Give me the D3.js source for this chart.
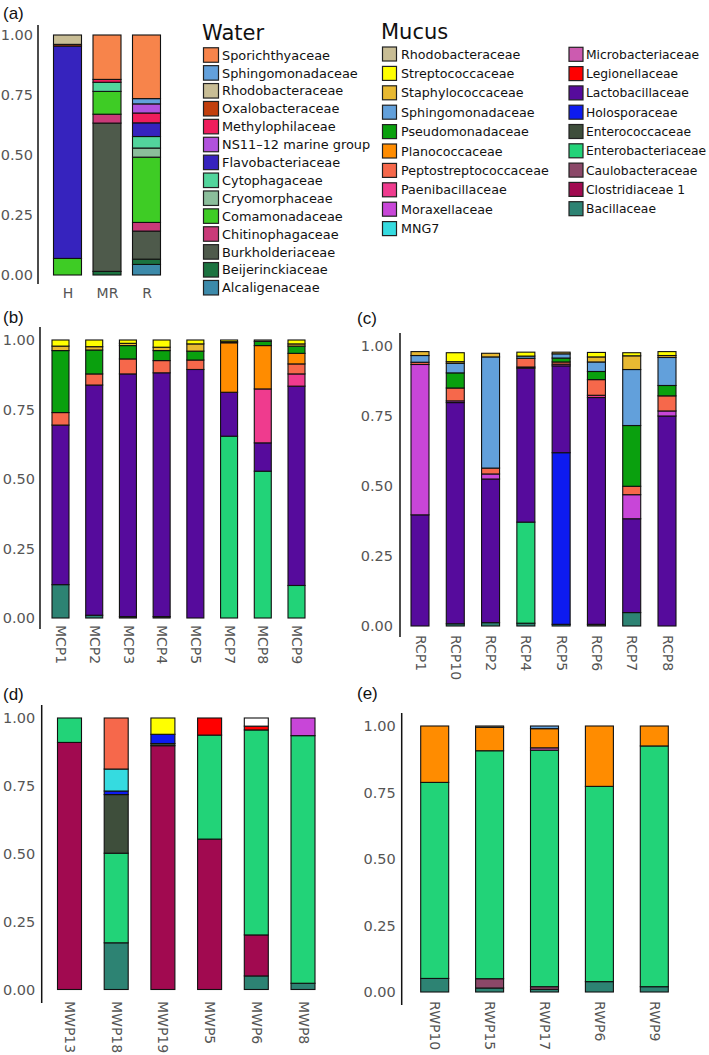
<!DOCTYPE html>
<html><head><meta charset="utf-8">
<script src="https://cdn.jsdelivr.net/npm/d3@7"></script>
<style>
body{margin:0;background:#fff}
svg{display:block}
text{font-family:"DejaVu Sans",Verdana,sans-serif}
</style>
</head><body>
<svg id="chart" width="709" height="1055"></svg>
<script>
// ---------- legend / categories ----------
const waterFamilies = ["Sporichthyaceae","Sphingomonadaceae","Rhodobacteraceae","Oxalobacteraceae","Methylophilaceae","NS11–12 marine group","Flavobacteriaceae","Cytophagaceae","Cryomorphaceae","Comamonadaceae","Chitinophagaceae","Burkholderiaceae","Beijerinckiaceae","Alcaligenaceae"];
const waterColors = ["#F7844B","#62A0DB","#C8BD95","#C23F0D","#EF1D5C","#B152DD","#3623BE","#52D59C","#8BBE9B","#3ECC25","#C93A79","#4E5A4B","#1B7340","#3C8AAA"];
const mucusFamiliesCol1 = ["Rhodobacteraceae","Streptococcaceae","Staphylococcaceae","Sphingomonadaceae","Pseudomonadaceae","Planococcaceae","Peptostreptococcaceae","Paenibacillaceae","Moraxellaceae","MNG7"];
const mucusColorsCol1 = ["#C8BD95","#FFFF00","#E8B932","#62A0DB","#0AA00E","#FF8C00","#F6684B","#EF3B8E","#C846D8","#35DBE0"];
const mucusFamiliesCol2 = ["Microbacteriaceae","Legionellaceae","Lactobacillaceae","Holosporaceae","Enterococcaceae","Enterobacteriaceae","Caulobacteraceae","Clostridiaceae 1","Bacillaceae"];
const mucusColorsCol2 = ["#CC5BB0","#FF0000","#560B9C","#0D1BF0","#3E4E3B","#22D378","#8B4868","#A10A50","#2D8373"];
const otherName = "Other";
const otherColor = "#FFFFFF";

// stacking order, bottom to top
const waterStack = ["Alcaligenaceae","Beijerinckiaceae","Burkholderiaceae","Chitinophagaceae","Comamonadaceae","Cryomorphaceae","Cytophagaceae","Flavobacteriaceae","Methylophilaceae","NS11–12 marine group","Oxalobacteraceae","Rhodobacteraceae","Sphingomonadaceae","Sporichthyaceae"];
const mucusStack = ["Bacillaceae","Caulobacteraceae","Clostridiaceae 1","Enterobacteriaceae","Enterococcaceae","Holosporaceae","Lactobacillaceae","Legionellaceae","Microbacteriaceae","MNG7","Moraxellaceae","Paenibacillaceae","Peptostreptococcaceae","Planococcaceae","Pseudomonadaceae","Rhodobacteraceae","Sphingomonadaceae","Staphylococcaceae","Streptococcaceae","Other"];

const yTicks = [0, 0.25, 0.5, 0.75, 1];

// ---------- panel (a) ----------
const samplesA = ["H","MR","R"];
const valuesA = {
  "Sporichthyaceae":      [0,     0.185, 0.265],
  "Sphingomonadaceae":    [0,     0,     0.022],
  "Rhodobacteraceae":     [0.039, 0,     0],
  "Oxalobacteraceae":     [0.007, 0,     0],
  "Methylophilaceae":     [0,     0.012, 0.041],
  "NS11–12 marine group": [0,     0,     0.038],
  "Flavobacteriaceae":    [0.885, 0,     0.057],
  "Cytophagaceae":        [0,     0.038, 0.048],
  "Cryomorphaceae":       [0,     0,     0.038],
  "Comamonadaceae":       [0.069, 0.095, 0.272],
  "Chitinophagaceae":     [0,     0.037, 0.036],
  "Burkholderiaceae":     [0,     0.618, 0.117],
  "Beijerinckiaceae":     [0,     0.015, 0.022],
  "Alcaligenaceae":       [0,     0,     0.044]
};

// ---------- panel (b) ----------
const samplesB = ["MCP1","MCP2","MCP3","MCP4","MCP5","MCP7","MCP8","MCP9"];
const valuesB = {
  "Streptococcaceae":      [0.022, 0.024, 0.012, 0.026, 0.014, 0.006, 0,     0.014],
  "Staphylococcaceae":     [0.016, 0.012, 0.008, 0.012, 0.026, 0,     0,     0.008],
  "Rhodobacteraceae":      [0,     0,     0,     0,     0,     0.004, 0.005, 0],
  "Pseudomonadaceae":      [0.223, 0.086, 0.048, 0.036, 0.032, 0,     0.015, 0.026],
  "Planococcaceae":        [0,     0,     0,     0,     0,     0.178, 0.156, 0.038],
  "Peptostreptococcaceae": [0.045, 0.040, 0.054, 0.044, 0.034, 0,     0,     0.036],
  "Paenibacillaceae":      [0,     0,     0,     0,     0,     0,     0.194, 0.044],
  "Lactobacillaceae":      [0.574, 0.828, 0.873, 0.877, 0.894, 0.158, 0.102, 0.717],
  "Enterococcaceae":       [0,     0,     0.005, 0.005, 0,     0,     0,     0],
  "Enterobacteriaceae":    [0,     0,     0,     0,     0,     0.654, 0.528, 0.117],
  "Bacillaceae":           [0.120, 0.010, 0,     0,     0,     0,     0,     0]
};

// ---------- panel (c) ----------
const samplesC = ["RCP1","RCP10","RCP2","RCP4","RCP5","RCP6","RCP7","RCP8"];
const valuesC = {
  "Streptococcaceae":      [0,     0.032, 0,     0.014, 0,     0.016, 0.011, 0.014],
  "Staphylococcaceae":     [0.014, 0.006, 0.013, 0,     0.006, 0.018, 0.049, 0.007],
  "Sphingomonadaceae":     [0.024, 0.034, 0.397, 0.008, 0.015, 0.034, 0.200, 0.100],
  "Pseudomonadaceae":      [0,     0.054, 0,     0,     0.014, 0.029, 0.217, 0.037],
  "Peptostreptococcaceae": [0.008, 0.046, 0.021, 0.031, 0.008, 0.056, 0.030, 0.054],
  "Paenibacillaceae":      [0,     0,     0,     0.004, 0,     0.008, 0,     0],
  "Moraxellaceae":         [0.537, 0.006, 0.018, 0,     0.006, 0,     0.086, 0.018],
  "Lactobacillaceae":      [0.397, 0.790, 0.513, 0.550, 0.310, 0.810, 0.335, 0.750],
  "Holosporaceae":         [0,     0,     0,     0,     0.613, 0,     0,     0],
  "Enterococcaceae":       [0,     0,     0,     0,     0,     0.006, 0,     0],
  "Enterobacteriaceae":    [0,     0,     0,     0.361, 0,     0,     0,     0],
  "Bacillaceae":           [0,     0.008, 0.012, 0.010, 0.006, 0,     0.048, 0]
};

// ---------- panel (d) ----------
const samplesD = ["MWP13","MWP18","MWP19","MWP5","MWP6","MWP8"];
const valuesD = {
  "Other":                 [0,     0,     0,     0,     0.030, 0],
  "Streptococcaceae":      [0,     0,     0.060, 0,     0,     0],
  "Peptostreptococcaceae": [0,     0.188, 0,     0,     0,     0],
  "Moraxellaceae":         [0,     0,     0,     0,     0,     0.065],
  "MNG7":                  [0,     0.081, 0,     0,     0,     0],
  "Legionellaceae":        [0,     0,     0,     0.063, 0.014, 0],
  "Holosporaceae":         [0,     0.013, 0.034, 0,     0,     0],
  "Enterococcaceae":       [0,     0.216, 0.008, 0,     0,     0],
  "Enterobacteriaceae":    [0.090, 0.330, 0,     0.383, 0.755, 0.912],
  "Clostridiaceae 1":      [0.910, 0,     0.898, 0.554, 0.151, 0],
  "Bacillaceae":           [0,     0.172, 0,     0,     0.050, 0.023]
};

// ---------- panel (e) ----------
const samplesE = ["RWP10","RWP15","RWP17","RWP6","RWP9"];
const valuesE = {
  "Rhodobacteraceae":      [0,     0.005, 0,     0,     0],
  "Sphingomonadaceae":     [0,     0,     0.010, 0,     0],
  "Planococcaceae":        [0.212, 0.088, 0.072, 0.227, 0.075],
  "Microbacteriaceae":     [0,     0,     0.009, 0,     0],
  "Enterobacteriaceae":    [0.737, 0.857, 0.889, 0.734, 0.905],
  "Caulobacteraceae":      [0,     0.035, 0.010, 0,     0],
  "Bacillaceae":           [0.051, 0.015, 0.010, 0.039, 0.020]
};

// ---------- drawing ----------
const svg = d3.select("#chart");
const waterColorMap = new Map(waterFamilies.map((f,i)=>[f, waterColors[i]]));
const mucusColorMap = new Map(
  mucusFamiliesCol1.map((f,i)=>[f, mucusColorsCol1[i]])
    .concat(mucusFamiliesCol2.map((f,i)=>[f, mucusColorsCol2[i]]))
);
mucusColorMap.set(otherName, otherColor);

function drawPanel(cfg) {
  const x = d3.scalePoint().domain(cfg.samples).range(cfg.xRange);
  const y = d3.scaleLinear().domain([0, 1]).range(cfg.yRange);
  const keys = cfg.order.filter(k => cfg.values[k]);
  const rows = cfg.samples.map((s, i) => {
    const r = {sample: s};
    keys.forEach(k => r[k] = cfg.values[k][i]);
    return r;
  });
  const series = d3.stack().keys(keys)(rows);
  const g = svg.append("g");

  g.selectAll("g.series").data(series).join("g")
    .attr("class", "series")
    .attr("fill", d => cfg.colors.get(d.key))
    .selectAll("rect")
    .data(d => d.filter(p => p[1] - p[0] > 0))
    .join("rect")
    .attr("x", p => x(p.data.sample) - cfg.barW / 2)
    .attr("width", cfg.barW)
    .attr("y", p => y(p[1]))
    .attr("height", p => y(p[0]) - y(p[1]))
    .attr("stroke", "#111")
    .attr("stroke-width", 1.1);

  // axis spine
  g.append("line")
    .attr("x1", cfg.axisX).attr("x2", cfg.axisX)
    .attr("y1", cfg.spine[0]).attr("y2", cfg.spine[1])
    .attr("stroke", "#111").attr("stroke-width", 1.5);

  // y tick labels
  const ya = g.append("g").attr("transform", `translate(${cfg.axisX},0)`)
    .call(d3.axisLeft(y).tickValues(yTicks).tickFormat(d3.format(".2f")).tickSize(0).tickPadding(cfg.tickPad));
  ya.select(".domain").remove();
  ya.selectAll("text").attr("fill", "#555").style("font-size", "14.5px")
    .style("font-family", '"DejaVu Sans",Verdana,sans-serif');

  // x labels
  const xa = g.append("g").attr("transform", `translate(0,${cfg.labelY})`)
    .call(d3.axisBottom(x).tickSize(0).tickPadding(0));
  xa.select(".domain").remove();
  const xt = xa.selectAll("text").attr("fill", "#555").style("font-size", "14px")
    .style("font-family", '"DejaVu Sans",Verdana,sans-serif');
  if (cfg.rotate) {
    xt.attr("transform", "rotate(90)").attr("x", 0).attr("y", 0)
      .attr("dy", "0.35em").attr("text-anchor", "start");
  } else {
    xt.attr("y", 0).attr("dy", "0.71em");
  }

  // panel letter
  svg.append("text").attr("x", cfg.letterPos[0]).attr("y", cfg.letterPos[1])
    .text(cfg.letter).style("font-size", "17px").attr("fill", "#111")
    .style("font-family", '"Liberation Sans",Arial,sans-serif');
}

drawPanel({samples: samplesA, values: valuesA, order: waterStack, colors: waterColorMap,
  xRange: [67.5, 146.5], barW: 28, yRange: [275, 35], axisX: 38, spine: [25, 284],
  tickPad: 5, rotate: false, labelY: 288, letter: "(a)", letterPos: [3, 19]});
drawPanel({samples: samplesB, values: valuesB, order: mucusStack, colors: mucusColorMap,
  xRange: [60.5, 296.5], barW: 17, yRange: [618, 340], axisX: 40, spine: [327, 629],
  tickPad: 5, rotate: true, labelY: 625, letter: "(b)", letterPos: [3, 323]});
drawPanel({samples: samplesC, values: valuesC, order: mucusStack, colors: mucusColorMap,
  xRange: [420, 667], barW: 18, yRange: [626, 346], axisX: 400, spine: [333, 637],
  tickPad: 7, rotate: true, labelY: 635, letter: "(c)", letterPos: [357, 324]});
drawPanel({samples: samplesD, values: valuesD, order: mucusStack, colors: mucusColorMap,
  xRange: [69.5, 303], barW: 24, yRange: [989.5, 718], axisX: 41.7, spine: [705, 1003],
  tickPad: 6.5, rotate: true, labelY: 1001, letter: "(d)", letterPos: [3, 700]});
drawPanel({samples: samplesE, values: valuesE, order: mucusStack, colors: mucusColorMap,
  xRange: [434.7, 654.3], barW: 28, yRange: [992, 726], axisX: 401.7, spine: [713, 1005],
  tickPad: 6, rotate: true, labelY: 1001, letter: "(e)", letterPos: [357, 699]});

// ---------- legends ----------
function drawLegend(names, colorMap, x0, y0, step, sw, sh, textX, fs) {
  const g = svg.append("g");
  const items = g.selectAll("g").data(names).join("g")
    .attr("transform", (d, i) => `translate(0,${y0 + i * step})`);
  items.append("rect").attr("x", x0).attr("y", -sh / 2).attr("width", sw).attr("height", sh)
    .attr("fill", d => colorMap.get(d)).attr("stroke", "#222").attr("stroke-width", 1.2);
  items.append("text").attr("x", textX).attr("y", 0).attr("dy", "0.36em")
    .text(d => d).style("font-size", fs + "px").attr("fill", "#111");
}
svg.append("text").attr("x", 202).attr("y", 40).text("Water").style("font-size", "21px").attr("fill", "#111");
drawLegend(waterFamilies, waterColorMap, 203.5, 55, 17.9, 15, 14.5, 222, 12.9);
svg.append("text").attr("x", 381).attr("y", 39).text("Mucus").style("font-size", "21px").attr("fill", "#111");
drawLegend(mucusFamiliesCol1, mucusColorMap, 382.5, 54, 19.4, 14, 14, 401, 12.7);
drawLegend(mucusFamiliesCol2, mucusColorMap, 569, 54.3, 19.3, 14, 14, 586, 12.3);
</script>
</body></html>
